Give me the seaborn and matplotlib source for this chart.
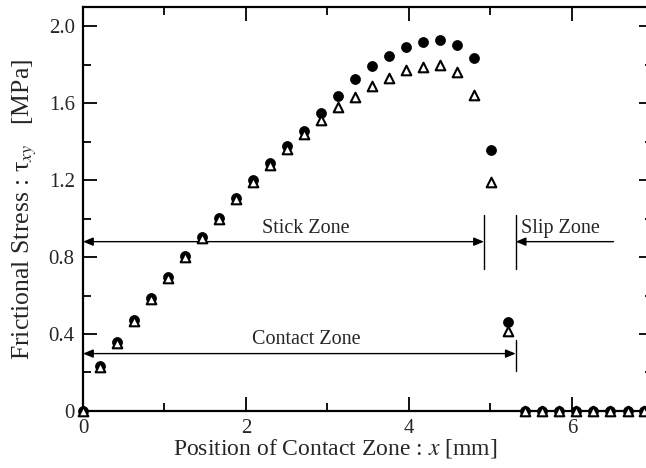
import numpy as np
import pandas as pd
import matplotlib
matplotlib.use('Agg')
import matplotlib.pyplot as plt
import seaborn as sns

# estilo
sns.set_theme(style='ticks')
plt.rcParams['font.family'] = ['Liberation Serif', 'DejaVu Serif']
plt.rcParams['mathtext.fontset'] = 'stix'

# posicoes ao longo da zona de contato [mm]
pos_x = [0.0, 0.209, 0.418, 0.626, 0.835, 1.044, 1.253, 1.462, 1.670, 1.879,
         2.088, 2.297, 2.506, 2.714, 2.923, 3.132, 3.341, 3.550, 3.758, 3.967,
         4.176, 4.385, 4.594, 4.802, 5.011, 5.220, 5.429, 5.638, 5.846, 6.055,
         6.264, 6.473, 6.682, 6.890]

# tensao de atrito [MPa] - circulos cheios
tau_filled = [0.0, 0.235, 0.36, 0.475, 0.585, 0.695, 0.805, 0.905, 1.005, 1.105,
              1.20, 1.29, 1.375, 1.455, 1.55, 1.635, 1.725, 1.795, 1.845, 1.89,
              1.92, 1.93, 1.905, 1.835, 1.355, 0.46, 0.0, 0.0, 0.0, 0.0,
              0.0, 0.0, 0.0, 0.0]

# tensao de atrito [MPa] - triangulos abertos
tau_open = [0.0, 0.23, 0.355, 0.47, 0.58, 0.69, 0.80, 0.90, 1.0, 1.10,
            1.19, 1.28, 1.36, 1.44, 1.51, 1.58, 1.63, 1.69, 1.73, 1.77,
            1.79, 1.80, 1.76, 1.645, 1.19, 0.415, 0.0, 0.0, 0.0, 0.0,
            0.0, 0.0, 0.0, 0.0]

# limites das zonas [mm]
stick_end = 4.92
slip_start = 5.31
slip_arrow_end = 6.51

df = pd.DataFrame({'x': pos_x, 'filled': tau_filled, 'open': tau_open})

fig = plt.figure(figsize=(6.46, 4.68), dpi=100)
ax = fig.add_axes([0.1285, 0.122, 0.883, 0.863])

sns.scatterplot(data=df, x='x', y='filled', marker='o', s=52, color='black',
                edgecolor='black', linewidth=0.5, clip_on=False, zorder=3, ax=ax)
sns.scatterplot(data=df, x='x', y='open', marker='^', s=48, facecolor='white',
                edgecolor='black', linewidth=1.5, clip_on=False, zorder=4, ax=ax)

ax.set_xlim(0, 7)
ax.set_ylim(0, 2.1)
ax.set_xticks([0, 2, 4, 6])
ax.set_xticklabels(['0', '2', '4', '6'])
ax.set_xticks([1, 3, 5], minor=True)
ax.set_yticks([0, 0.4, 0.8, 1.2, 1.6, 2.0])
ax.set_yticklabels(['0', '0.4', '0.8', '1.2', '1.6', '2.0'])
ax.set_yticks([0.2, 0.6, 1.0, 1.4, 1.8], minor=True)
ax.tick_params(which='both', direction='in', top=True, right=True,
               labelsize=15, width=1.3, color='black', pad=6)
ax.tick_params(which='major', length=10)
ax.tick_params(which='minor', length=6)
for sp in ax.spines.values():
    sp.set_linewidth(1.6)
    sp.set_color('black')

ax.set_xlabel('Position of Contact Zone : $x$ [mm]', fontsize=17)
ax.xaxis.set_label_coords(0.442, -0.065)
ax.set_ylabel('Frictional Stress : τ$_{xy}$   [MPa]', fontsize=18.5, labelpad=7)

# setas das zonas
arr = dict(arrowstyle='<|-|>,head_length=0.6,head_width=0.25', color='black',
           lw=1.0, shrinkA=0, shrinkB=0, mutation_scale=10)
ax.annotate('', xy=(0, 0.88), xytext=(stick_end, 0.88), arrowprops=arr)
ax.annotate('', xy=(0, 0.298), xytext=(slip_start, 0.298), arrowprops=arr)
ax.annotate('', xy=(slip_start, 0.88), xytext=(slip_arrow_end, 0.88),
            arrowprops=dict(arr, arrowstyle='-|>,head_length=0.6,head_width=0.25'))
ax.plot([stick_end, stick_end], [0.74, 1.02], color='black', lw=1.0)
ax.plot([slip_start, slip_start], [0.74, 1.02], color='black', lw=1.0)
ax.plot([slip_start, slip_start], [0.205, 0.37], color='black', lw=1.0)

ax.text(2.74, 0.9, 'Stick Zone', fontsize=14.5, ha='center', va='bottom')
ax.text(5.37, 0.9, 'Slip Zone', fontsize=14.5, ha='left', va='bottom')
ax.text(2.74, 0.32, 'Contact Zone', fontsize=14.5, ha='center', va='bottom')

fig.savefig('out.png', dpi=100)
